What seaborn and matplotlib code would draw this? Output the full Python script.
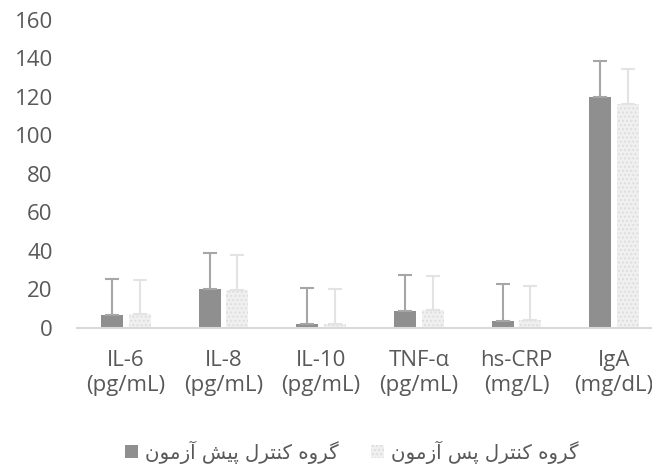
import matplotlib
matplotlib.use("Agg")
import matplotlib.pyplot as plt
import seaborn as sns
import pandas as pd
import numpy as np
from matplotlib.patches import Patch

# ---- data ----
categories = ["IL-6", "IL-8", "IL-10", "TNF-α", "hs-CRP", "IgA"]
units = ["(pg/mL)", "(pg/mL)", "(pg/mL)", "(pg/mL)", "(mg/L)", "(mg/dL)"]
series_names = ["گروه کنترل پیش آزمون", "گروه کنترل پس آزمون"]
pre_values = [6.4, 19.9, 1.9, 8.5, 3.5, 120.0]
post_values = [7.1, 19.4, 1.6, 9.0, 3.8, 116.4]
pre_err = [18.7, 19.1, 18.9, 19.0, 19.0, 18.9]
post_err = [17.7, 18.4, 18.5, 18.0, 18.0, 18.0]
y_ticks = [0, 20, 40, 60, 80, 100, 120, 140, 160]

# ---- simple Arabic-script shaping (matplotlib has no complex text layout) ----
FORMS = {
    "\u06AF": ("\uFB92", "\uFB93", "\uFB94", "\uFB95"),  # gaf
    "\u06A9": ("\uFB8E", "\uFB8F", "\uFB90", "\uFB91"),  # keheh
    "\u067E": ("\uFB56", "\uFB57", "\uFB58", "\uFB59"),  # peh
    "\u06CC": ("\uFBFC", "\uFBFD", "\uFBFE", "\uFBFF"),  # farsi yeh
    "\u0647": ("\uFEE9", "\uFEEA", "\uFEEB", "\uFEEC"),  # heh
    "\u0646": ("\uFEE5", "\uFEE6", "\uFEE7", "\uFEE8"),  # noon
    "\u062A": ("\uFE95", "\uFE96", "\uFE97", "\uFE98"),  # teh
    "\u0644": ("\uFEDD", "\uFEDE", "\uFEDF", "\uFEE0"),  # lam
    "\u0634": ("\uFEB5", "\uFEB6", "\uFEB7", "\uFEB8"),  # sheen
    "\u0645": ("\uFEE1", "\uFEE2", "\uFEE3", "\uFEE4"),  # meem
    "\u0633": ("\uFEB1", "\uFEB2", "\uFEB3", "\uFEB4"),  # seen
    "\u0631": ("\uFEAD", "\uFEAE", None, None),          # reh
    "\u0648": ("\uFEED", "\uFEEE", None, None),          # waw
    "\u0622": ("\uFE81", "\uFE82", None, None),          # alef madda
    "\u0632": ("\uFEAF", "\uFEB0", None, None),          # zain
}


def shape_rtl(s):
    out = []
    n = len(s)
    for i, c in enumerate(s):
        if c not in FORMS:
            out.append(c)
            continue
        iso, fin, ini, med = FORMS[c]
        prev = s[i - 1] if i > 0 else ""
        nxt = s[i + 1] if i < n - 1 else ""
        jp = prev in FORMS and FORMS[prev][2] is not None
        jn = nxt in FORMS and ini is not None
        if jp and jn:
            out.append(med)
        elif jp:
            out.append(fin)
        elif jn:
            out.append(ini)
        else:
            out.append(iso)
    return "".join(reversed(out))


sns.set_theme(style="white")
plt.rcParams["font.family"] = ["Open Sans", "DejaVu Sans"]

TXT = "#595959"
PRE_C = "#8f8f90"
POST_C = "#f0f0f0"

df = pd.DataFrame({
    "cat": categories * 2,
    "val": pre_values + post_values,
    "grp": [series_names[0]] * len(categories) + [series_names[1]] * len(categories),
})

fig = plt.figure(figsize=(6.52, 4.67), dpi=100)
ax = fig.add_axes([77 / 652, 139.5 / 467, 586 / 652, 307.5 / 467])

sns.barplot(data=df, x="cat", y="val", hue="grp", order=categories,
            hue_order=series_names, palette=[PRE_C, POST_C], saturation=1,
            width=0.563, gap=0.2, errorbar=None, legend=False, ax=ax)

for bar in ax.containers[0]:
    bar.set_linewidth(0)
# texture on post-test bars
for bar in ax.containers[1]:
    bar.set_hatch("....")
    bar.set_edgecolor("#dedede")
    bar.set_linewidth(0)

for cont, errs, col in zip(ax.containers, [pre_err, post_err], ["#a6a6a6", "#e3e3e3"]):
    xs = [b.get_x() + b.get_width() / 2 for b in cont]
    ys = [b.get_height() for b in cont]
    ax.errorbar(xs, ys, yerr=[np.zeros(len(errs)), errs], fmt="none",
                ecolor=col, elinewidth=1.5, capsize=4.7, capthick=1.5, zorder=3)

ax.set_ylim(0, 160)
ax.set_xlim(-0.5, len(categories) - 0.5)
ax.set_yticks(y_ticks)
ax.set_yticklabels([str(t) for t in y_ticks])
ax.set_xticks(range(len(categories)))
ax.set_xticklabels([f"{c}\n{u}" for c, u in zip(categories, units)], linespacing=1.25)
ax.tick_params(axis="both", length=0, labelsize=16, labelcolor=TXT)
ax.tick_params(axis="y", pad=17.5)
ax.tick_params(axis="x", pad=16.5)
ax.set_xlabel("")
ax.set_ylabel("")
for s in ["top", "right", "left"]:
    ax.spines[s].set_visible(False)
ax.spines["bottom"].set_color("#d9d9d9")
ax.spines["bottom"].set_linewidth(1.5)
ax.grid(False)

# legend
h1 = Patch(facecolor=PRE_C, edgecolor="none")
h2 = Patch(facecolor=POST_C, edgecolor="#dedede", hatch="....", linewidth=0)
labels = [shape_rtl(s) for s in series_names]


def make_leg(fs):
    px = fs * 100 / 72
    lg = fig.legend([h1, h2], labels, loc="center left",
                    bbox_to_anchor=(125 / 652, 1 - 452 / 467), ncol=2, frameon=False,
                    prop={"family": ["DejaVu Sans"], "size": fs},
                    handlelength=13 / px, handleheight=13 / px, handletextpad=7 / px,
                    columnspacing=32 / px, borderpad=0, borderaxespad=0)
    for t in lg.get_texts():
        t.set_color(TXT)
    return lg


fs = 13.0
leg = make_leg(fs)
fig.canvas.draw()
w = leg.get_texts()[0].get_window_extent().width
leg.remove()
fs = fs * 193 / w
leg = make_leg(fs)

fig.savefig("out.png", dpi=100, facecolor="white")
